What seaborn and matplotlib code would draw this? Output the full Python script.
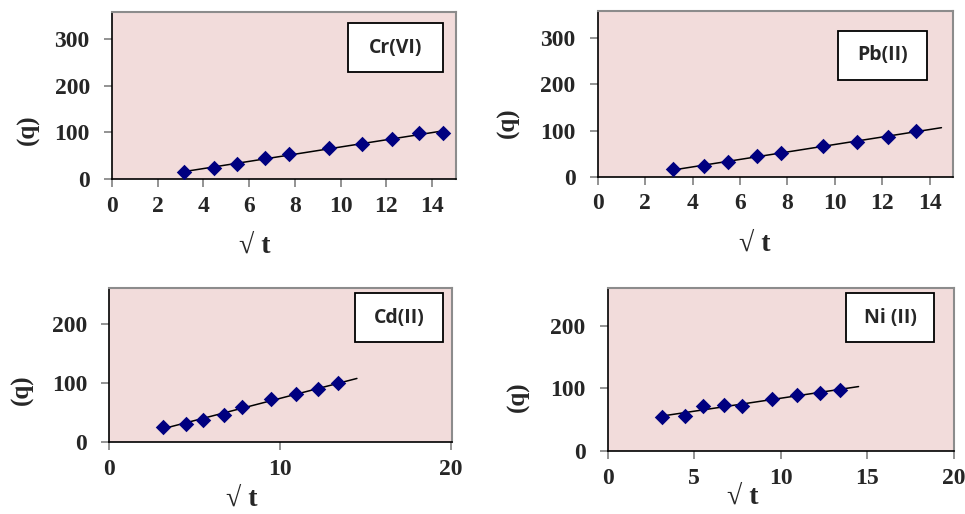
import numpy as np
import pandas as pd
import matplotlib
matplotlib.use("Agg")
import matplotlib.pyplot as plt
import seaborn as sns

# ---- data ----
sqrt_t = [3.16, 4.47, 5.48, 6.71, 7.75, 9.49, 10.95, 12.25, 13.42, 14.49]
q_cr = [16, 23, 33, 45, 53, 66, 76, 86, 98.5, 98.5]
q_pb = [16, 23, 32, 45, 52, 66, 76, 87, 99]
q_cd = [26, 30, 38, 46, 59, 73, 81, 90, 99]
q_ni = [55, 56, 71, 74, 72, 83, 89, 93, 97]
labels = ["Cr(VI)", "Pb(II)", "Cd(II)", "Ni (II)"]
series = [q_cr, q_pb, q_cd, q_ni]
xticks_list = [list(range(0, 15, 2)), list(range(0, 15, 2)), [0, 10, 20], [0, 5, 10, 15, 20]]
yticks_list = [[0, 100, 200, 300], [0, 100, 200, 300], [0, 100, 200], [0, 100, 200]]
xlims = [(0, 15.05), (0, 15.0), (0, 20.05), (0, 20.0)]
ylims = [(0, 358), (0, 359), (0, 261), (0, 260.5)]
trend_end = 14.5

sns.set_style("white")
plt.rcParams['font.family'] = ['Liberation Serif', 'DejaVu Serif']

W, H = 965, 514
fig = plt.figure(figsize=(W / 100, H / 100), dpi=100)

# axes boxes in pixels: left, top, right, bottom
boxes = [(112, 12, 456, 179), (597.7, 11, 953.3, 176.7),
         (109.3, 287.7, 451.7, 442), (607.7, 287.7, 953.7, 451)]
label_boxes = [(348, 23, 443, 72), (838.3, 30.7, 926.7, 80),
               (355, 293.3, 443.3, 342), (846, 293.3, 934.3, 342)]
ylabel_pos = [(28, 130), (508, 123), (22, 390), (518, 397)]
xlabel_pos = [(255, 246), (755, 244), (242, 499), (743, 497)]

bg = "#F2DCDB"
navy = "#000080"

for i in range(4):
    l, t, r, b = boxes[i]
    ax = fig.add_axes([l / W, 1 - b / H, (r - l) / W, (b - t) / H])
    ax.set_facecolor(bg)
    y = series[i]
    x = sqrt_t[:len(y)]
    df = pd.DataFrame({"x": x, "q": y})
    # linear trendline
    k, c = np.polyfit(x, y, 1)
    xe = max(trend_end, max(x)) if i > 0 else max(x)
    tl = pd.DataFrame({"x": [x[0], xe], "q": [k * x[0] + c, k * xe + c]})
    sns.lineplot(data=tl, x="x", y="q", ax=ax, color="black", lw=1.1, zorder=2)
    sns.scatterplot(data=df, x="x", y="q", ax=ax, marker="D", s=62,
                    color=navy, edgecolor=navy, linewidth=0, zorder=3)
    ax.set_xlim(*xlims[i])
    ax.set_ylim(*ylims[i])
    ax.set_xticks(xticks_list[i])
    ax.set_yticks(yticks_list[i])
    ax.set_xticklabels([str(v) for v in xticks_list[i]], fontsize=17, fontweight="bold")
    ax.set_yticklabels([str(v) for v in yticks_list[i]], fontsize=17, fontweight="bold")
    ax.tick_params(axis="x", direction="out", length=6, width=1.2, color="#808080",
                   pad=6, bottom=True)
    ax.tick_params(axis="y", direction="out", length=6, width=1.2, color="#808080",
                   pad=10, left=True)
    for s in ["top", "right"]:
        ax.spines[s].set_color("#8c8c8c")
        ax.spines[s].set_linewidth(1.5)
    for s in ["left", "bottom"]:
        ax.spines[s].set_color("black")
        ax.spines[s].set_linewidth(1.2)
    ax.set_xlabel("")
    ax.set_ylabel("")
    # label box
    bl, bt, br, bb = label_boxes[i]
    rect = plt.Rectangle((bl / W, 1 - bb / H), (br - bl) / W, (bb - bt) / H,
                         transform=fig.transFigure, facecolor="white",
                         edgecolor="black", linewidth=1.3, zorder=5)
    fig.add_artist(rect)
    fig.text(((bl + br) / 2) / W, 1 - ((bt + bb) / 2) / H, labels[i],
             ha="center", va="center", fontsize=14, fontweight="bold",
             family=["Open Sans", "DejaVu Sans"], zorder=6)
    # axis labels
    fig.text(ylabel_pos[i][0] / W, 1 - ylabel_pos[i][1] / H, "(q)", rotation=90,
             ha="center", va="center", fontsize=18, fontweight="bold")
    fig.text(xlabel_pos[i][0] / W, 1 - xlabel_pos[i][1] / H, "\u221a t",
             ha="center", va="center", fontsize=20, fontweight="bold")

fig.savefig("out.png", dpi=100)
